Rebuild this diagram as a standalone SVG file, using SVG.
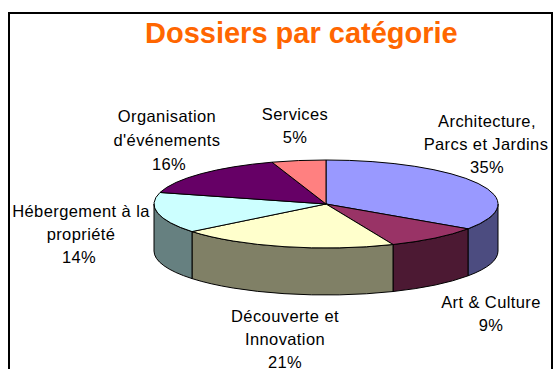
<svg xmlns="http://www.w3.org/2000/svg" width="553" height="369" viewBox="0 0 553 369">
<style>
.lbl{font-family:"Liberation Sans",Arial,sans-serif;font-size:16.5px;letter-spacing:0.4px;fill:#000;text-anchor:middle}
.title{font-family:"Liberation Sans",Arial,sans-serif;font-size:29px;font-weight:bold;fill:#FF6600}
.s{stroke:#000;stroke-width:1;stroke-linejoin:round}
</style>
<rect x="0" y="0" width="553" height="369" fill="#fff"/>
<rect x="9" y="13" width="543" height="400" fill="none" stroke="#000" stroke-width="2"/>
<text class="title" x="145" y="43">Dossiers par catégorie</text>

<g id="sides">
<path class="s" fill="#4C4C80" d="M498,204 A172,44 0 0 1 468,228.83 L468,275.83 A172,44 0 0 0 498,251 Z"/>
<path class="s" fill="#4C1933" d="M468,228.83 A172,44 0 0 1 393,244.52 L393,291.52 A172,44 0 0 0 468,275.83 Z"/>
<path class="s" fill="#808066" d="M393,244.52 A172,44 0 0 1 192,231.58 L192,278.58 A172,44 0 0 0 393,291.52 Z"/>
<path class="s" fill="#668080" d="M192,231.58 A172,44 0 0 1 154,204 L154,251 A172,44 0 0 0 192,278.58 Z"/>
</g>

<g id="architecture">
<path class="s" fill="#9999FF" d="M326,204 L326,160 A172,44 0 0 1 468,228.83 Z"/>
<text class="lbl" x="487" y="127">Architecture,</text>
<text class="lbl" x="486" y="150">Parcs et Jardins</text>
<text class="lbl" x="487" y="173">35%</text>
</g>
<g id="art-culture">
<path class="s" fill="#993366" d="M326,204 L468,228.83 A172,44 0 0 1 393,244.52 Z"/>
<text class="lbl" x="491" y="308">Art &amp; Culture</text>
<text class="lbl" x="491" y="331">9%</text>
</g>
<g id="decouverte">
<path class="s" fill="#FFFFCC" d="M326,204 L393,244.52 A172,44 0 0 1 192,231.58 Z"/>
<text class="lbl" x="285" y="322">Découverte et</text>
<text class="lbl" x="285" y="345">Innovation</text>
<text class="lbl" x="285" y="368">21%</text>
</g>
<g id="hebergement">
<path class="s" fill="#CCFFFF" d="M326,204 L192,231.58 A172,44 0 0 1 160,192.47 Z"/>
<text class="lbl" x="81" y="217">Hébergement à la</text>
<text class="lbl" x="81" y="240">propriété</text>
<text class="lbl" x="79" y="263">14%</text>
</g>
<g id="organisation">
<path class="s" fill="#660066" d="M326,204 L160,192.47 A172,44 0 0 1 272,162.2 Z"/>
<text class="lbl" x="167" y="122">Organisation</text>
<text class="lbl" x="167" y="146">d'événements</text>
<text class="lbl" x="169" y="170">16%</text>
</g>
<g id="services">
<path class="s" fill="#FF8080" d="M326,204 L272,162.2 A172,44 0 0 1 326,160 Z"/>
<text class="lbl" x="295" y="120">Services</text>
<text class="lbl" x="295" y="143">5%</text>
</g>
<g id="connectors"/>
</svg>
